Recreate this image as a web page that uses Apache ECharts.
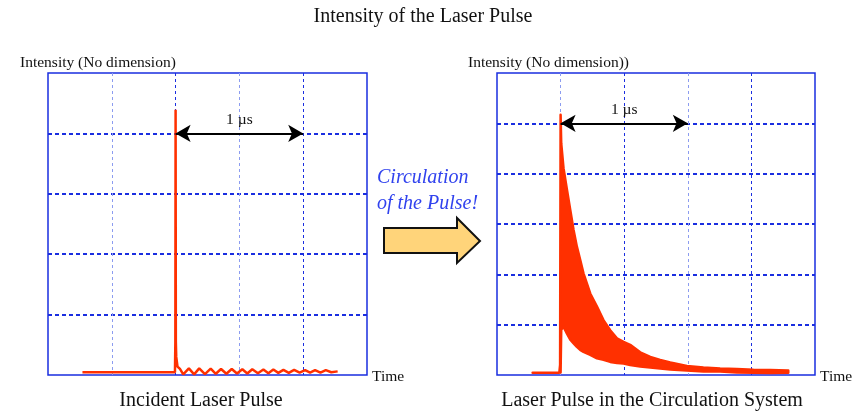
<!DOCTYPE html>
<html>
<head>
<meta charset="utf-8">
<script src="https://cdn.jsdelivr.net/npm/echarts@6/dist/echarts.min.js"></script>
<style>html,body{margin:0;padding:0;background:#fff}#c{width:867px;height:412px}</style>
</head>
<body>
<div id="c"></div>
<script>
// ---- data (time in µs, intensity in grid divisions) ----
const leftTime = [0.27, 0.995, 0.998, 1.0, 1.002, 1.005, 1.015, 1.034, 1.06, 1.104, 1.145, 1.185, 1.23, 1.275, 1.315, 1.356, 1.398, 1.44, 1.481, 1.523, 1.562, 1.601, 1.645, 1.688, 1.727, 1.766, 1.805, 1.845, 1.887, 1.929, 1.972, 2.015, 2.054, 2.093, 2.135, 2.177, 2.22, 2.27];
const leftIntensity = [0.045, 0.045, 0.55, 4.39, 0.55, 0.3, 0.14, 0.1, 0.01, 0.11, 0.01, 0.11, 0.015, 0.105, 0.02, 0.1, 0.02, 0.1, 0.025, 0.095, 0.025, 0.095, 0.03, 0.09, 0.03, 0.09, 0.035, 0.085, 0.035, 0.085, 0.04, 0.08, 0.04, 0.08, 0.04, 0.08, 0.045, 0.06];

const rightTime  = [0.28, 0.49, 0.496, 0.5, 0.505, 0.523, 0.55, 0.576, 0.602, 0.628, 0.654, 0.68, 0.733, 0.786, 0.837, 0.89, 0.943, 0.995, 1.047, 1.126, 1.205, 1.283, 1.362, 1.493, 1.623, 1.754, 1.885, 2.016, 2.147, 2.29];
const rightUpper = [0.045, 0.045, 0.2, 5.17, 4.6, 4.11, 3.68, 3.28, 2.88, 2.55, 2.29, 2.02, 1.62, 1.36, 1.09, 0.89, 0.73, 0.66, 0.6, 0.45, 0.36, 0.3, 0.25, 0.18, 0.15, 0.13, 0.12, 0.105, 0.1, 0.09];
const rightLower = [0.045, 0.045, 0.2, 0.05, 0.9, 0.96, 0.82, 0.7, 0.63, 0.56, 0.5, 0.46, 0.4, 0.33, 0.3, 0.26, 0.24, 0.23, 0.2, 0.17, 0.15, 0.13, 0.11, 0.09, 0.07, 0.07, 0.05, 0.045, 0.04, 0.045];

const leftArrow = { from: 1.0, to: 2.0, level: 4, label: '1 µs' };
const rightArrow = { from: 0.5, to: 1.5, level: 5, label: '1 µs' };

const titles = {
  main: 'Intensity of the Laser Pulse',
  left: 'Incident Laser Pulse',
  right: 'Laser Pulse in the Circulation System',
  leftY: 'Intensity (No dimension)',
  rightY: 'Intensity (No dimension))',
  x: 'Time',
  note1: 'Circulation',
  note2: 'of the Pulse!'
};

// ---- styles ----
const RED = '#ff3000';
const BLUE = '#1a2ee0';
const LIGHT = '#8c9cf0';
const SERIF = '"Liberation Serif", "Times New Roman", serif';

function xAxisOpt(idx) {
  return {
    gridIndex: idx, type: 'value', min: 0, max: 2.5, interval: 0.5,
    axisLine: { show: false }, axisTick: { show: false }, axisLabel: { show: false },
    splitLine: { show: true, showMinLine: false, showMaxLine: false,
      lineStyle: { color: [LIGHT, BLUE], width: 1, type: [3, 3] } }
  };
}
function yAxisOpt(idx, max) {
  return {
    gridIndex: idx, type: 'value', min: 0, max: max, interval: 1,
    axisLine: { show: false }, axisTick: { show: false }, axisLabel: { show: false },
    splitLine: { show: true, showMinLine: false, showMaxLine: false,
      lineStyle: { color: BLUE, width: 2, type: [4, 3] } }
  };
}
function arrowMark(a) {
  return {
    silent: true, animation: false,
    symbol: ['arrow', 'arrow'], symbolSize: [13, 15],
    lineStyle: { color: '#000', width: 2, type: 'solid' },
    label: { show: true, position: 'insideMiddleTop', distance: 5, formatter: a.label,
      color: '#111', fontFamily: SERIF, fontSize: 15.5 },
    data: [[{ coord: [a.from, a.level] }, { coord: [a.to, a.level] }]]
  };
}

const chart = echarts.init(document.getElementById('c'), null, { renderer: 'canvas' });

function textEl(txt, x, y, font, align, color) {
  return {
    type: 'text', x: x, y: y, silent: true,
    style: { text: txt, font: font, fill: color || '#111', textAlign: align || 'center', verticalAlign: 'middle' }
  };
}

chart.setOption({
  animation: false,
  grid: [
    { left: 48, top: 73, width: 319, height: 302, show: true, borderColor: BLUE, borderWidth: 1.5, backgroundColor: 'transparent' },
    { left: 497, top: 73, width: 318, height: 302, show: true, borderColor: BLUE, borderWidth: 1.5, backgroundColor: 'transparent' }
  ],
  xAxis: [xAxisOpt(0), xAxisOpt(1)],
  yAxis: [yAxisOpt(0, 5), yAxisOpt(1, 6)],
  series: [
    {
      type: 'line', xAxisIndex: 0, yAxisIndex: 0, symbol: 'none', z: 3,
      data: leftTime.map((t, i) => [t, leftIntensity[i]]),
      lineStyle: { color: RED, width: 2.5 },
      markLine: arrowMark(leftArrow)
    },
    {
      // decaying pulse train: band between the upper and lower envelope
      type: 'custom', xAxisIndex: 1, yAxisIndex: 1, z: 3, silent: true,
      data: [[rightTime[0], rightUpper[0]]],
      renderItem: function (params, api) {
        const pts = [];
        for (let i = 0; i < rightTime.length; i++) pts.push(api.coord([rightTime[i], rightUpper[i]]));
        for (let i = rightTime.length - 1; i >= 0; i--) pts.push(api.coord([rightTime[i], rightLower[i]]));
        return {
          type: 'polygon',
          shape: { points: pts },
          style: { fill: RED, stroke: RED, lineWidth: 2.5, lineJoin: 'round' }
        };
      }
    },
    {
      type: 'line', xAxisIndex: 1, yAxisIndex: 1, symbol: 'none', z: 2,
      data: [],
      markLine: arrowMark(rightArrow)
    }
  ],
  graphic: [
    textEl(titles.main, 423, 17, '20px ' + SERIF),
    textEl(titles.left, 201, 401, '20px ' + SERIF),
    textEl(titles.right, 652, 401, '20px ' + SERIF),
    textEl(titles.leftY, 20, 63, '15.5px ' + SERIF, 'left'),
    textEl(titles.rightY, 468, 63, '15.5px ' + SERIF, 'left'),
    textEl(titles.x, 372, 377, '15.5px ' + SERIF, 'left'),
    textEl(titles.x, 820, 377, '15.5px ' + SERIF, 'left'),
    textEl(titles.note1, 377, 178, 'italic 20px ' + SERIF, 'left', '#3042ee'),
    textEl(titles.note2, 377, 204, 'italic 20px ' + SERIF, 'left', '#3042ee'),
    {
      type: 'polygon', silent: true,
      shape: { points: [[384, 228], [457, 228], [457, 218], [480, 241], [457, 263], [457, 253], [384, 253]] },
      style: { fill: '#ffd47a', stroke: '#111', lineWidth: 2 }
    }
  ]
});
</script>
</body>
</html>
